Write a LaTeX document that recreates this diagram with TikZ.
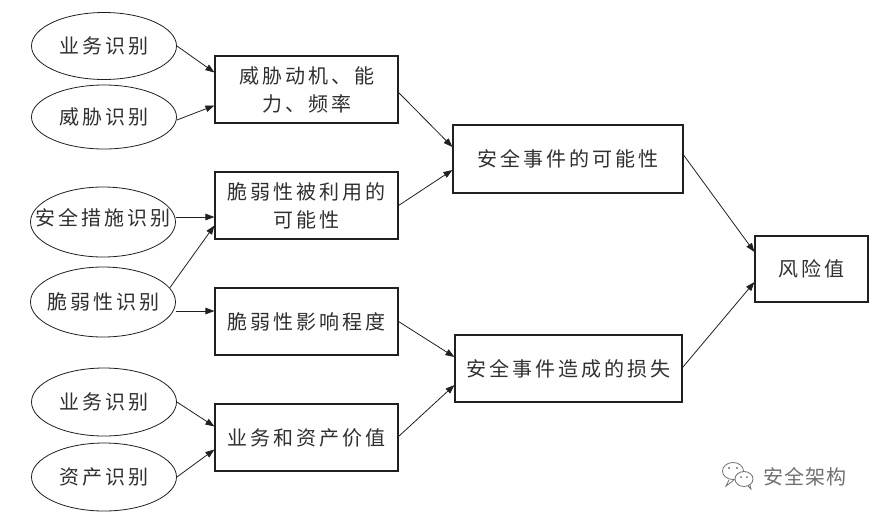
\documentclass[tikz,border=0pt]{standalone}
\usepackage{fontspec}
\usetikzlibrary{shapes.geometric,arrows.meta}
\newfontfamily\cjk{Noto Sans CJK SC}[LetterSpace=15]
\newfontfamily\cjkwm{Noto Sans CJK SC}[LetterSpace=5]
\definecolor{ink}{HTML}{202020}
\definecolor{txt}{HTML}{303030}
\definecolor{wm}{HTML}{707070}
\begin{document}
\begin{tikzpicture}[x=1pt,y=-1pt,
  oval/.style={ellipse,draw=ink,line width=0.8pt,minimum width=145pt,minimum height=68pt,inner sep=0pt},
  olabel/.style={font=\cjk\fontsize{20}{24}\selectfont,text=txt,inner sep=0pt},
  rbox/.style={rectangle,draw=ink,line width=1.1pt,inner sep=0pt,align=center,
    font=\cjk\fontsize{20}{28}\selectfont,text=txt},
  conn/.style={draw=ink,line width=0.8pt,-{Triangle[length=9pt,width=6.5pt]}}
]
\useasboundingbox (0,0) rectangle (875,515);
\fill[white] (0,0) rectangle (875,515);

% ellipses
\node[oval,minimum height=67pt,label={[olabel]center:业务识别}] (e1) at (104,46) {};
\node[oval,minimum height=64pt,label={[olabel]center:威胁识别}] (e2) at (104,117) {};
\node[oval,minimum height=70pt,label={[olabel,yshift=4pt]center:安全措施识别}] (e3) at (103,222) {};
\node[oval,minimum height=70pt,label={[olabel]center:脆弱性识别}] (e4) at (103,302) {};
\node[oval,minimum height=68pt,label={[olabel]center:业务识别}] (e5) at (104,402) {};
\node[oval,minimum height=68pt,label={[olabel]center:资产识别}] (e6) at (104,477) {};

% first-level boxes
\node[rbox,minimum width=183pt,minimum height=67pt] (b1) at (306.5,89.5) {威胁动机、能\\力、频率};
\node[rbox,minimum width=183pt,minimum height=67pt] (b2) at (306.5,205.5) {脆弱性被利用的\\可能性};
\node[rbox,minimum width=183pt,minimum height=67pt] (b3) at (306.5,321.5) {脆弱性影响程度};
\node[rbox,minimum width=183pt,minimum height=67pt] (b4) at (306.5,437.5) {业务和资产价值};

% second-level boxes
\node[rbox,minimum width=230pt,minimum height=68pt] (c1) at (568,159) {安全事件的可能性};
\node[rbox,minimum width=227pt,minimum height=67pt] (c2) at (568.5,368.5) {安全事件造成的损失};

% result
\node[rbox,minimum width=113pt,minimum height=66pt] (d) at (811.5,269) {风险值};

% connectors
\draw[conn] (e1.east) -- ([yshift=17pt]b1.west);
\draw[conn] ([yshift=-3pt]e2.east) -- ([yshift=-16pt]b1.west);
\draw[conn] ([yshift=5pt]e3.east) -- ([yshift=-11.5pt]b2.west);
\draw[conn] (e4.12) -- ([yshift=-20pt]b2.west);
\draw[conn] ([yshift=-9pt]e4.east) -- ([yshift=10.5pt]b3.west);
\draw[conn] (e5.east) -- ([yshift=11pt]b4.west);
\draw[conn] (e6.east) -- ([yshift=-12pt]b4.west);
\draw[conn] ([yshift=-3pt]b1.east) -- ([yshift=12pt]c1.west);
\draw[conn] (b2.east) -- ([yshift=-11pt]c1.west);
\draw[conn] (b3.east) -- ([yshift=11.5pt]c2.west);
\draw[conn] ([yshift=1pt]b4.east) -- ([yshift=-16.5pt]c2.west);
\draw[conn] ([yshift=4pt]c1.east) -- ([yshift=17pt]d.west);
\draw[conn] ([yshift=1pt]c2.east) -- ([yshift=-13pt]d.west);

% watermark
\begin{scope}[draw=wm,line width=0.8pt]
  \draw (733,471) ellipse [x radius=10.5pt,y radius=8.5pt];
  \draw (729,480) -- (726,486) -- (734,480);
  \filldraw[fill=white] (744,479) ellipse [x radius=9pt,y radius=7.5pt];
  \draw (748,486) -- (751,489) -- (750,485);
  \fill[wm] (729,468) circle (1.2pt) (737,468) circle (1.2pt);
  \fill[wm] (741,477) circle (1pt) (747,477) circle (1pt);
\end{scope}
\node[font=\cjkwm\fontsize{20}{24}\selectfont,text=wm,inner sep=0pt] (wm) at (805,477) {安全架构};
\end{tikzpicture}
\end{document}
